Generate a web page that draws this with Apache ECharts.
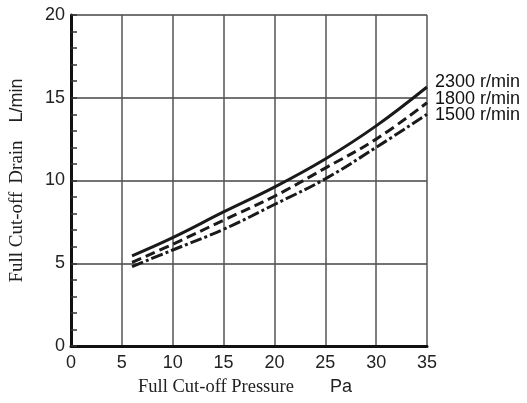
<!DOCTYPE html>
<html>
<head>
<meta charset="utf-8">
<script src="https://cdn.jsdelivr.net/npm/echarts@6/dist/echarts.min.js"></script>
<style>
html, body { margin: 0; padding: 0; background: #fff; }
#chart { width: 527px; height: 403px; }
</style>
</head>
<body>
<div id="chart"></div>
<script>
const pressure = [6, 10, 15, 20, 25, 30, 35];
const drain2300 = [5.45, 6.55, 8.1, 9.6, 11.3, 13.3, 15.65];
const drain1800 = [5.05, 6.15, 7.6, 9.05, 10.75, 12.5, 14.7];
const drain1500 = [4.8, 5.8, 7.05, 8.55, 10.1, 12.0, 14.0];
const speedNames = ['2300 r/min', '1800 r/min', '1500 r/min'];

const pairs = (xs, ys) => xs.map((x, i) => [x, ys[i]]);
const sans = 'Liberation Sans, Arial, sans-serif';
const serif = 'Liberation Serif, Times New Roman, serif';

const chart = echarts.init(document.getElementById('chart'));

const makeSeries = (name, data, type, dy) => ({
  name: name,
  type: 'line',
  data: pairs(pressure, data),
  smooth: 0.4,
  symbol: 'none',
  lineStyle: { color: '#1a1a1a', width: 3, type: type },
  endLabel: {
    show: true,
    formatter: name,
    color: '#111',
    fontFamily: sans,
    fontSize: 18,
    distance: 8,
    offset: [0, dy]
  }
});

chart.setOption({
  animation: false,
  grid: { left: 71, right: 100, top: 15, bottom: 57 },
  xAxis: {
    type: 'value',
    min: 0,
    max: 35,
    interval: 5,
    name: '{s|Full Cut-off Pressure}{g|}{a|Pa}',
    nameLocation: 'middle',
    nameGap: 32,
    nameTextStyle: {
      padding: [0, 8, 0, 0],
      rich: {
        s: { fontFamily: serif, fontSize: 18.5, color: '#222' },
        g: { width: 36 },
        a: { fontFamily: sans, fontSize: 18, color: '#222' }
      }
    },
    axisLine: { lineStyle: { color: '#111', width: 3 } },
    axisTick: { show: false },
    axisLabel: { color: '#222', fontSize: 18, fontFamily: sans, margin: 8 },
    splitLine: { show: true, lineStyle: { color: '#555', width: 1.5 } }
  },
  yAxis: {
    type: 'value',
    min: 0,
    max: 20,
    interval: 5,
    name: '{s|Full Cut-off}{g1|}{s|Drain}{g2|}{a|L/min}',
    nameLocation: 'middle',
    nameRotate: 90,
    nameGap: 44,
    nameTextStyle: {
      rich: {
        s: { fontFamily: serif, fontSize: 19, color: '#222' },
        g1: { width: 8 },
        g2: { width: 18 },
        a: { fontFamily: sans, fontSize: 18, color: '#222' }
      }
    },
    axisLine: { show: true, lineStyle: { color: '#111', width: 3 } },
    axisTick: { show: true, inside: true, length: 6, lineStyle: { color: '#333', width: 1.5 } },
    minorTick: { show: true, splitNumber: 5, length: 6, lineStyle: { color: '#333', width: 1.5 } },
    axisLabel: { color: '#222', fontSize: 18, fontFamily: sans, margin: 6 },
    splitLine: { show: true, lineStyle: { color: '#444', width: 1.5 } }
  },
  series: [
    makeSeries(speedNames[0], drain2300, 'solid', -5),
    makeSeries(speedNames[1], drain1800, [10, 5], -4),
    makeSeries(speedNames[2], drain1500, [12, 3, 3, 3], 1)
  ]
});
</script>
</body>
</html>
